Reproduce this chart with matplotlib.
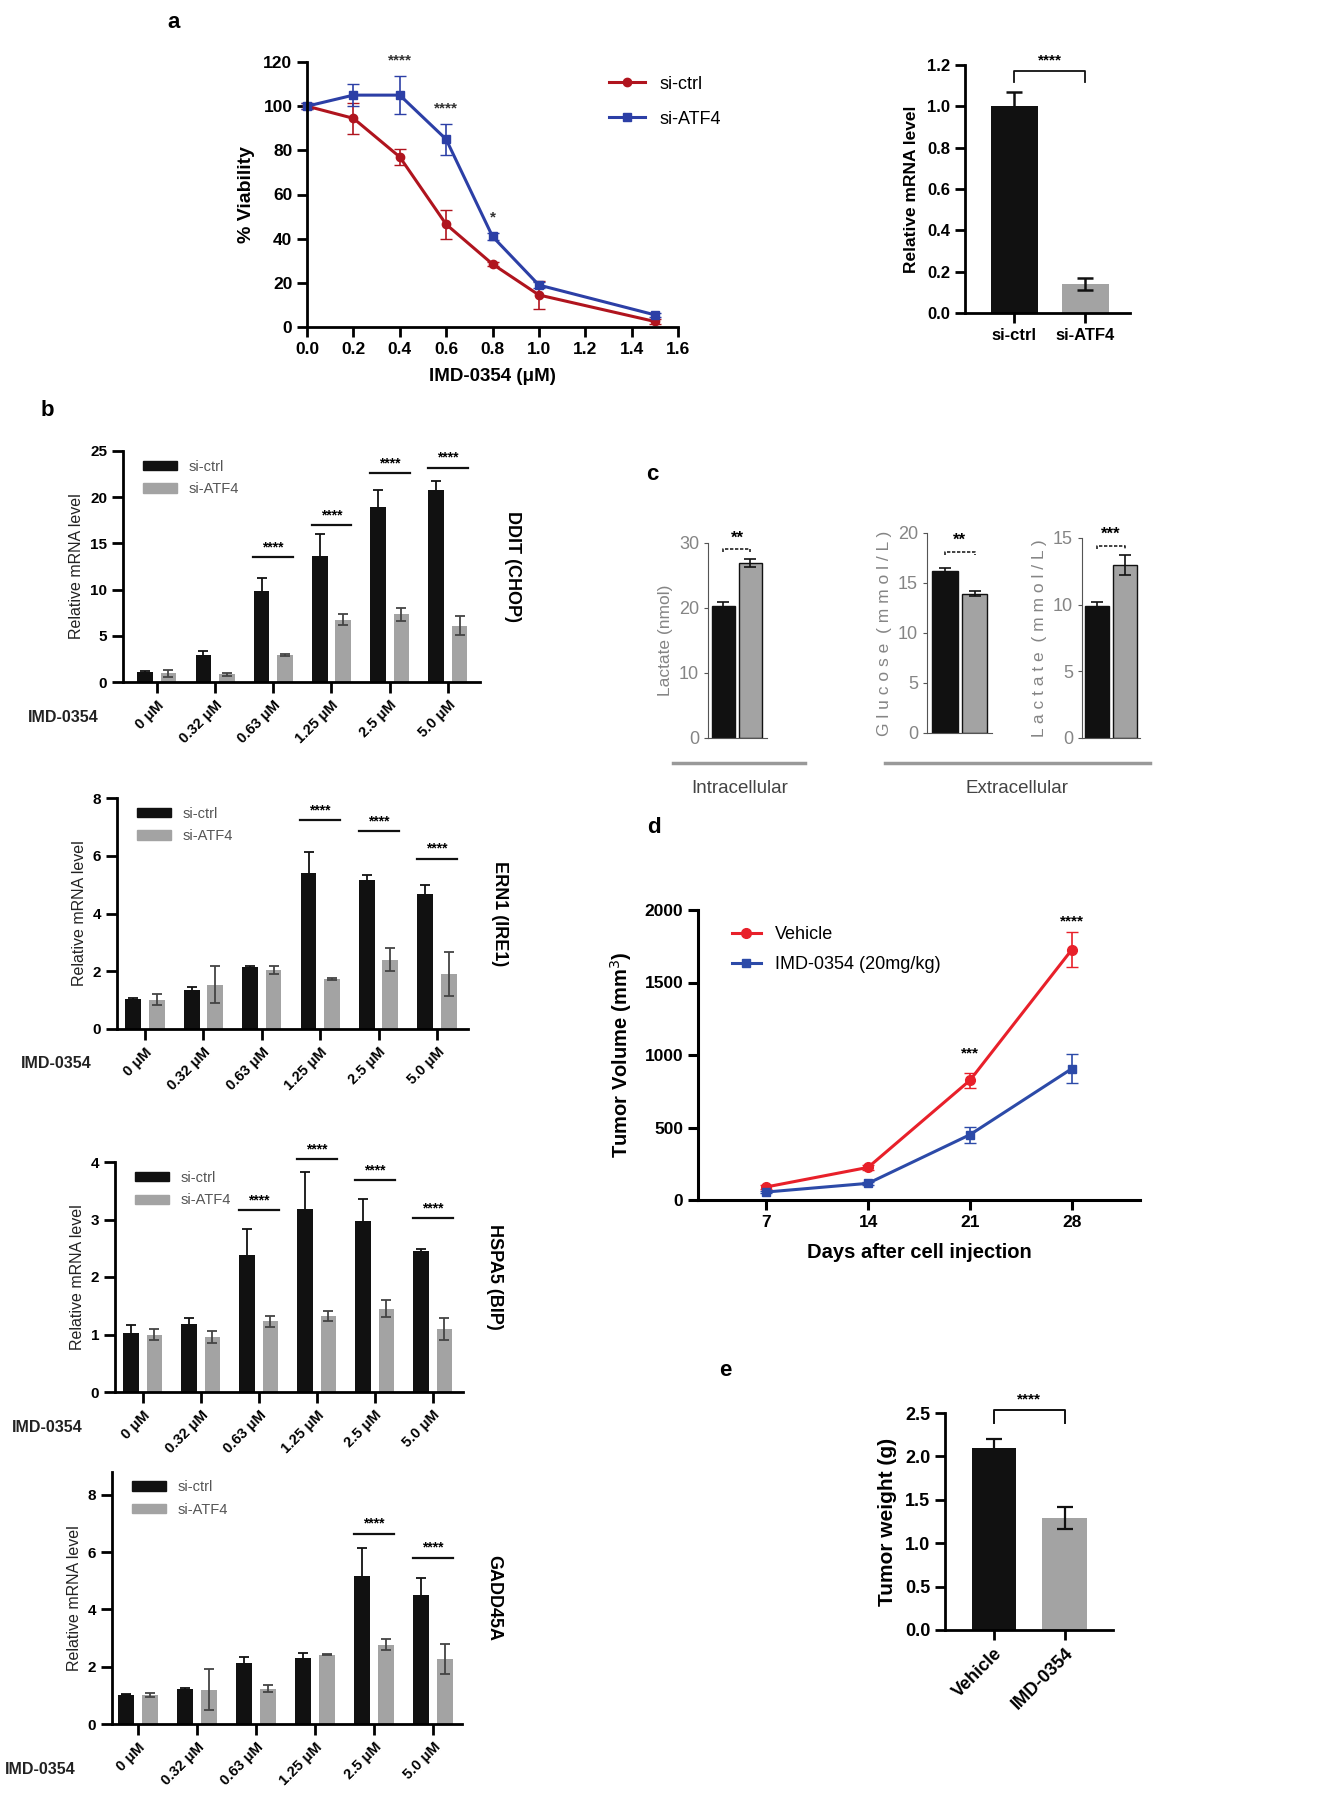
import matplotlib
matplotlib.use("Agg")
import matplotlib.pyplot as plt
from matplotlib.patches import Patch
from matplotlib.lines import Line2D

plt.rcParams['font.family'] = ['Liberation Sans', 'DejaVu Sans']

# ---- panel a: viability curve ----
a_dose = [0, 0.2, 0.4, 0.6, 0.8, 1.0, 1.5]
a_ctrl = [100, 94.5, 77, 46.5, 28.5, 14.5, 2.5]
a_ctrl_err = [1.5, 7, 3.5, 6.5, 1, 6.5, 1]
a_atf4 = [100, 105, 105, 85, 41, 19, 5.5]
a_atf4_err = [1.5, 5, 8.5, 7, 1.5, 1.5, 1]
a_stars = [(0.4, '****'), (0.6, '****'), (0.8, '*')]

# ---- panel a: knockdown check ----
kd_groups = ['si-ctrl', 'si-ATF4']
kd_mrna = [1.0, 0.14]
kd_err = [0.07, 0.03]

# ---- panel b: UPR genes ----
b_doses = ['0 \u03bcM', '0.32 \u03bcM', '0.63 \u03bcM', '1.25 \u03bcM', '2.5 \u03bcM', '5.0 \u03bcM']
genes = ['DDIT (CHOP)', 'ERN1 (IRE1)', 'HSPA5 (BIP)', 'GADD45A']

ddit_ctrl = [1.05, 2.9, 9.8, 13.6, 18.9, 20.8]
ddit_ctrl_err = [0.1, 0.5, 1.45, 2.4, 1.85, 1.0]
ddit_atf4 = [0.95, 0.85, 2.95, 6.75, 7.35, 6.1]
ddit_atf4_err = [0.4, 0.15, 0.1, 0.6, 0.7, 1.0]
ddit_sig = [(2, 13.5), (3, 17.0), (4, 22.6), (5, 23.2)]

ern1_ctrl = [1.04, 1.36, 2.13, 5.4, 5.15, 4.68]
ern1_ctrl_err = [0.02, 0.08, 0.06, 0.72, 0.2, 0.32]
ern1_atf4 = [1.02, 1.54, 2.04, 1.73, 2.4, 1.9]
ern1_atf4_err = [0.19, 0.63, 0.13, 0.05, 0.4, 0.75]
ern1_sig = [(3, 7.24), (4, 6.85), (5, 5.9)]

hspa5_ctrl = [1.02, 1.18, 2.39, 3.18, 2.98, 2.46]
hspa5_ctrl_err = [0.15, 0.11, 0.44, 0.65, 0.37, 0.03]
hspa5_atf4 = [1.0, 0.96, 1.23, 1.32, 1.45, 1.1]
hspa5_atf4_err = [0.09, 0.1, 0.1, 0.09, 0.15, 0.19]
hspa5_sig = [(2, 3.16), (3, 4.05), (4, 3.68), (5, 3.02)]

gadd_ctrl = [1.02, 1.22, 2.13, 2.3, 5.17, 4.51]
gadd_ctrl_err = [0.02, 0.02, 0.21, 0.18, 0.97, 0.58]
gadd_atf4 = [1.02, 1.2, 1.23, 2.42, 2.77, 2.27]
gadd_atf4_err = [0.08, 0.72, 0.12, 0.02, 0.2, 0.53]
gadd_sig = [(4, 6.64), (5, 5.81)]

# ---- panel c: metabolism ----
c_intra_lactate = [20.3, 26.9]
c_intra_lactate_err = [0.6, 0.6]
c_glucose = [16.2, 13.9]
c_glucose_err = [0.3, 0.25]
c_extra_lactate = [9.9, 12.95]
c_extra_lactate_err = [0.3, 0.75]

# ---- panel d: tumor growth ----
d_days = [7, 14, 21, 28]
d_vehicle = [90, 225, 825, 1725]
d_vehicle_err = [15, 15, 50, 120]
d_imd = [55, 115, 450, 905]
d_imd_err = [10, 12, 55, 100]

# ---- panel e: tumor weight ----
e_groups = ['Vehicle', 'IMD-0354']
e_weight = [2.1, 1.29]
e_weight_err = [0.1, 0.13]

W, H = 1342, 1800
fig = plt.figure(figsize=(W / 100, H / 100), dpi=100)
BLACK = '#111111'
GREY = '#a3a3a3'
RED_A = '#b0141e'
BLUE_A = '#2c3fa6'
RED_D = '#e8202a'
BLUE_D = '#2c4aa8'


def add_ax(l, t, r, b):
    return fig.add_axes([l / W, 1 - b / H, (r - l) / W, (b - t) / H])


def prism_style(ax, lw=2.0, tlen=7, fs=11):
    for s in ['top', 'right']:
        ax.spines[s].set_visible(False)
    for s in ['left', 'bottom']:
        ax.spines[s].set_linewidth(lw)
    ax.tick_params(width=lw, length=tlen, labelsize=fs, direction='out')
    for lab in ax.get_xticklabels() + ax.get_yticklabels():
        lab.set_fontweight('bold')


def ftext(x, y, s, **kw):
    fig.text(x / W, 1 - y / H, s, **kw)


# ===== panel a, curve =====
ax = add_ax(307, 62, 678, 327)
ax.errorbar(a_dose, a_ctrl, yerr=a_ctrl_err, color=RED_A, marker='o', ms=6,
            lw=2.2, capsize=4, elinewidth=1.2, clip_on=False)
ax.errorbar(a_dose, a_atf4, yerr=a_atf4_err, color=BLUE_A, marker='s', ms=6,
            lw=2.2, capsize=4, elinewidth=1.2, clip_on=False)
ax.set_xlim(0, 1.6)
ax.set_ylim(0, 120)
ax.set_xticks([0, 0.2, 0.4, 0.6, 0.8, 1.0, 1.2, 1.4, 1.6])
ax.set_xticklabels(['0.0', '0.2', '0.4', '0.6', '0.8', '1.0', '1.2', '1.4', '1.6'])
ax.set_yticks(range(0, 121, 20))
prism_style(ax, fs=12.5)
for x, s in a_stars:
    i = a_dose.index(x)
    ax.text(x, a_atf4[i] + a_atf4_err[i] + 4, s, ha='center', va='bottom',
            fontsize=11, fontweight='bold', color='#333')
ax.set_ylabel('% Viability', fontsize=14, fontweight='bold', labelpad=6)
ax.set_xlabel('IMD-0354 (\u03bcM)', fontsize=13.5, fontweight='bold', labelpad=8)
ax.legend(handles=[Line2D([], [], color=RED_A, marker='o', ms=6, lw=2.2),
                   Line2D([], [], color=BLUE_A, marker='s', ms=6, lw=2.2)],
          labels=['si-ctrl', 'si-ATF4'], loc='upper left',
          bbox_to_anchor=(0.77, 1.01), frameon=False, fontsize=13,
          handlelength=2.0, labelspacing=1.0)
ftext(174, 22, 'a', fontsize=16, fontweight='bold', ha='center', va='center')

# ===== panel a, knockdown bars =====
ax = add_ax(965, 65, 1130, 313)
ax.bar([0, 1], kd_mrna, width=0.66, color=[BLACK, GREY])
ax.errorbar([0, 1], kd_mrna, yerr=kd_err, fmt='none', ecolor=BLACK,
            capsize=6, elinewidth=1.8, capthick=1.8)
ax.set_xlim(-0.69, 1.63)
ax.set_ylim(0, 1.2)
ax.set_xticks([0, 1])
ax.set_xticklabels(kd_groups)
ax.set_yticks([0, 0.2, 0.4, 0.6, 0.8, 1.0, 1.2])
ax.set_yticklabels(['0.0', '0.2', '0.4', '0.6', '0.8', '1.0', '1.2'])
prism_style(ax, fs=12)
ax.plot([0, 0, 1, 1], [1.12, 1.17, 1.17, 1.12], color=BLACK, lw=1.3, clip_on=False)
ax.text(0.5, 1.19, '****', ha='center', va='bottom', fontsize=11, fontweight='bold')
ax.set_ylabel('Relative mRNA level', fontsize=12.5, fontweight='bold', labelpad=6)

# ===== panel b =====
b_specs = [
    (genes[0], ddit_ctrl, ddit_ctrl_err, ddit_atf4, ddit_atf4_err, ddit_sig,
     (123, 451, 480, 682), (-0.58, 5.55), 25, [0, 5, 10, 15, 20, 25], 718, 28),
    (genes[1], ern1_ctrl, ern1_ctrl_err, ern1_atf4, ern1_atf4_err, ern1_sig,
     (117, 798, 468, 1029), (-0.48, 5.53), 8, [0, 2, 4, 6, 8], 1063, 21),
    (genes[2], hspa5_ctrl, hspa5_ctrl_err, hspa5_atf4, hspa5_atf4_err, hspa5_sig,
     (115, 1162, 463, 1392), (-0.48, 5.52), 4, [0, 1, 2, 3, 4], 1427, 12),
    (genes[3], gadd_ctrl, gadd_ctrl_err, gadd_atf4, gadd_atf4_err, gadd_sig,
     (112, 1472, 462, 1724), (-0.44, 5.49), 8.8, [0, 2, 4, 6, 8], 1770, 5),
]
xs = list(range(len(b_doses)))
for gene, yc, ec, ya, ea, sig, box, xl, ytop, yt, imd_y, imd_x in b_specs:
    ax = add_ax(*box)
    xc = [x - 0.2 for x in xs]
    xa = [x + 0.2 for x in xs]
    ax.bar(xc, yc, width=0.27, color=BLACK)
    ax.bar(xa, ya, width=0.27, color=GREY)
    ax.errorbar(xc, yc, yerr=ec, fmt='none', ecolor=BLACK, capsize=3.5,
                elinewidth=1.3, capthick=1.3)
    ax.errorbar(xa, ya, yerr=ea, fmt='none', ecolor='#444', capsize=3.5,
                elinewidth=1.3, capthick=1.3)
    ax.set_xlim(*xl)
    ax.set_ylim(0, ytop)
    ax.set_yticks(yt)
    ax.set_xticks(xs)
    ax.set_xticklabels(b_doses, rotation=45, ha='right', rotation_mode='anchor')
    prism_style(ax, lw=2.0, tlen=8, fs=11)
    ax.tick_params(axis='x', labelsize=10.5)
    for i, h in sig:
        ax.plot([i - 0.34, i + 0.34], [h, h], color=BLACK, lw=1.6, clip_on=False)
        ax.text(i, h + ytop * 0.012, '****', ha='center', va='bottom',
                fontsize=10, fontweight='bold', clip_on=False)
    ax.legend(handles=[Patch(color=BLACK), Patch(color=GREY)],
              labels=['si-ctrl', 'si-ATF4'], loc='upper left',
              bbox_to_anchor=(0.02, 1.02), frameon=False, fontsize=10.5,
              labelcolor='#555', handlelength=2.3, handleheight=0.6,
              labelspacing=0.6)
    ax.set_ylabel('Relative mRNA level', fontsize=11.5, labelpad=4, color='#222')
    ax.text(1.09, 0.5, gene, transform=ax.transAxes, rotation=-90, ha='center',
            va='center', fontsize=13, fontweight='bold')
    ftext(imd_x, imd_y, 'IMD-0354', fontsize=11.5, fontweight='bold', ha='left',
          va='center', color='#222')
ftext(47, 410, 'b', fontsize=16, fontweight='bold', ha='center', va='center')

# ===== panel c =====
CGREY = '#858585'
c_specs = [
    (c_intra_lactate, c_intra_lactate_err, (708, 543, 767, 738), (-0.57, 1.61),
     30, [0, 10, 20, 30], 'Lactate (nmol)', 29.0, '**'),
    (c_glucose, c_glucose_err, (927, 533, 992, 733), (-0.61, 1.59),
     20, [0, 5, 10, 15, 20], 'G l u c o s e  ( m m o l / L )', 18.1, '**'),
    (c_extra_lactate, c_extra_lactate_err, (1082, 538, 1140, 738), (-0.54, 1.54),
     15, [0, 5, 10, 15], 'L a c t a t e  ( m m o l / L )', 14.4, '***'),
]
for vals, errs, box, xl, ytop, yt, ylab, sig_h, stars in c_specs:
    ax = add_ax(*box)
    ax.bar([0, 1], vals, width=0.85, color=[BLACK, GREY], edgecolor=BLACK, lw=1.0)
    ax.errorbar([0, 1], vals, yerr=errs, fmt='none', ecolor=BLACK, capsize=4,
                elinewidth=1.2, capthick=1.2)
    ax.set_xlim(*xl)
    ax.set_ylim(0, ytop)
    ax.set_yticks(yt)
    ax.set_xticks([])
    for s in ['top', 'right']:
        ax.spines[s].set_visible(False)
    ax.spines['left'].set_color('#555')
    ax.spines['bottom'].set_color('#555')
    ax.tick_params(axis='y', length=3, color='#555', labelsize=13,
                   labelcolor=CGREY)
    ax.plot([0, 0, 1, 1], [sig_h - ytop * 0.015, sig_h, sig_h, sig_h - ytop * 0.015],
            color='#222', lw=1.2, ls=(0, (2, 1)), clip_on=False)
    ax.text(0.5, sig_h + ytop * 0.02, stars, ha='center', va='bottom',
            fontsize=12, fontweight='bold', clip_on=False)
    ax.set_ylabel(ylab, fontsize=12.5, color=CGREY, labelpad=4)
line_kw = dict(color='#999', lw=2.5)
fig.add_artist(Line2D([673 / W, 805 / W], [1 - 763 / H, 1 - 763 / H], **line_kw))
fig.add_artist(Line2D([885 / W, 1150 / W], [1 - 763 / H, 1 - 763 / H], **line_kw))
ftext(740, 788, 'Intracellular', fontsize=13.5, color='#444', ha='center', va='center')
ftext(1017, 788, 'Extracellular', fontsize=13.5, color='#444', ha='center', va='center')
ftext(652, 475, 'c', fontsize=16, fontweight='bold', ha='center', va='center')

# ===== panel d =====
ax = add_ax(698, 910, 1140, 1200)
ax.errorbar(d_days, d_vehicle, yerr=d_vehicle_err, color=RED_D, marker='o',
            ms=7, lw=2.2, capsize=4, elinewidth=1.2)
ax.errorbar(d_days, d_imd, yerr=d_imd_err, color=BLUE_D, marker='s',
            ms=6, lw=2.2, capsize=4, elinewidth=1.2)
ax.set_xlim(2.3, 32.7)
ax.set_ylim(0, 2000)
ax.set_xticks(d_days)
ax.set_yticks([0, 500, 1000, 1500, 2000])
prism_style(ax, lw=2.2, tlen=7, fs=12.5)
ax.text(21, 960, '***', ha='center', va='bottom', fontsize=11, fontweight='bold')
ax.text(28, 1870, '****', ha='center', va='bottom', fontsize=11, fontweight='bold')
ax.set_ylabel('Tumor Volume (mm$^3$)', fontsize=14.5, fontweight='bold', labelpad=8)
ax.set_xlabel('Days after cell injection', fontsize=14.5, fontweight='bold', labelpad=10)
ax.legend(handles=[Line2D([], [], color=RED_D, marker='o', ms=7, lw=2.2),
                   Line2D([], [], color=BLUE_D, marker='s', ms=6, lw=2.2)],
          labels=['Vehicle', 'IMD-0354 (20mg/kg)'], loc='upper left',
          bbox_to_anchor=(0.04, 1.0), frameon=False, fontsize=13,
          handlelength=1.6, labelspacing=0.7)
ftext(654, 828, 'd', fontsize=16, fontweight='bold', ha='center', va='center')

# ===== panel e =====
ax = add_ax(945, 1413, 1113, 1630)
ax.bar([0, 1], e_weight, width=0.63, color=[BLACK, GREY])
ax.errorbar([0, 1], e_weight, yerr=e_weight_err, fmt='none', ecolor=BLACK,
            capsize=6, elinewidth=1.6, capthick=1.6)
ax.set_xlim(-0.69, 1.68)
ax.set_ylim(0, 2.5)
ax.set_xticks([0, 1])
ax.set_xticklabels(e_groups, rotation=45, ha='right', rotation_mode='anchor')
ax.set_yticks([0, 0.5, 1.0, 1.5, 2.0, 2.5])
ax.set_yticklabels(['0.0', '0.5', '1.0', '1.5', '2.0', '2.5'])
prism_style(ax, lw=2.0, tlen=7, fs=13)
ax.plot([0, 0, 1, 1], [2.38, 2.53, 2.53, 2.38], color=BLACK, lw=1.4, clip_on=False)
ax.text(0.5, 2.57, '****', ha='center', va='bottom', fontsize=11, fontweight='bold')
ax.set_ylabel('Tumor weight (g)', fontsize=15, fontweight='bold', labelpad=6)
ftext(725, 1370, 'e', fontsize=16, fontweight='bold', ha='center', va='center')

fig.savefig('out.png', dpi=100, facecolor='white')
